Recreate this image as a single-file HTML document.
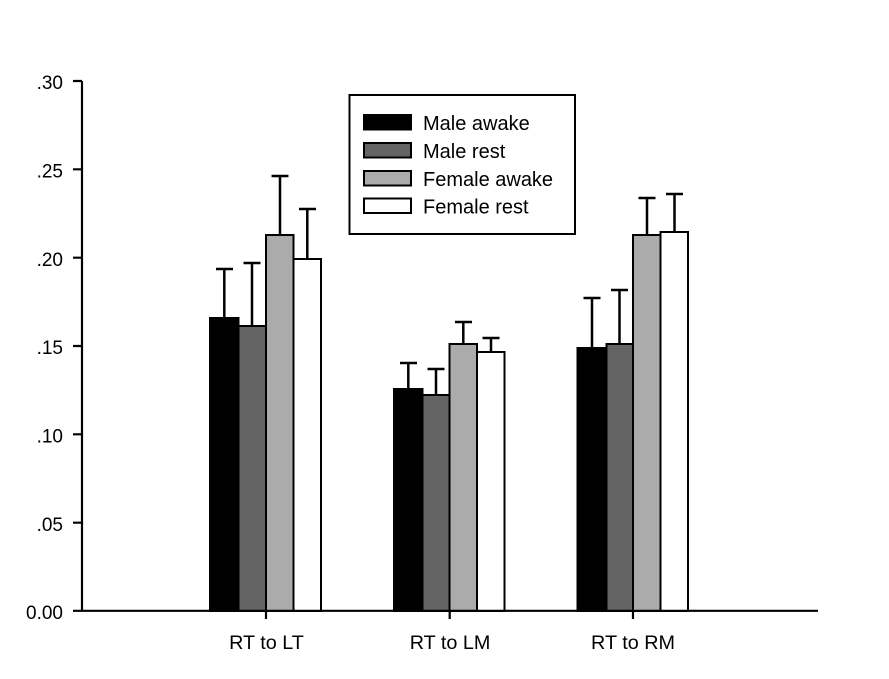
<!DOCTYPE html>
<html><head><meta charset="utf-8"><style>
html,body{margin:0;padding:0;background:#fff;}
svg{display:block;}
text{font-family:"Liberation Sans",Arial,sans-serif;fill:#000;}
</style></head><body>
<svg width="889" height="679" viewBox="0 0 889 679" xmlns="http://www.w3.org/2000/svg">
<rect width="889" height="679" fill="#fff"/>
<g stroke="#000" stroke-width="2">
<rect x="210" y="318" width="28.5" height="293" fill="#000"/>
<rect x="238.5" y="326" width="27.5" height="285" fill="#646464"/>
<rect x="266" y="235" width="27.5" height="376" fill="#ababab"/>
<rect x="293.5" y="259" width="27.5" height="352" fill="#fff"/>
<rect x="394" y="389" width="28.5" height="222" fill="#000"/>
<rect x="422.5" y="395" width="27" height="216" fill="#646464"/>
<rect x="449.5" y="344" width="27.5" height="267" fill="#ababab"/>
<rect x="477" y="352" width="27.5" height="259" fill="#fff"/>
<rect x="577.5" y="348" width="29" height="263" fill="#000"/>
<rect x="606.5" y="344" width="26.5" height="267" fill="#646464"/>
<rect x="633" y="235" width="27.5" height="376" fill="#ababab"/>
<rect x="660.5" y="232" width="27.5" height="379" fill="#fff"/>
</g>
<g stroke="#000" stroke-width="2.5" fill="none">
<path d="M224.3 318V269M216 269H233"/>
<path d="M252 326V263M243.5 263H260.5"/>
<path d="M280 235V176M271.5 176H288.5"/>
<path d="M307.3 259V209M299 209H316"/>
<path d="M408.3 389V363M400 363H417"/>
<path d="M436 395V369M427.5 369H444.5"/>
<path d="M463.3 344V322M455 322H472"/>
<path d="M491 352V338M482.5 338H499.5"/>
<path d="M592 348V298M583.5 298H600.5"/>
<path d="M619.5 344V290M611 290H628"/>
<path d="M647 235V198M638.5 198H655.5"/>
<path d="M674.5 232V194M666 194H683"/>
</g>
<g stroke="#000" stroke-width="2.2" fill="none">
<path d="M82 81V611.7"/>
<path d="M81 610.8H818"/>
<path d="M73 81H82M73 169.3H82M73 257.7H82M73 346H82M73 434.3H82M73 522.7H82M73 610.8H82"/>
<path d="M266 611V619M449.7 611V619M633 611V619"/>
</g>
<g font-size="19" text-anchor="end">
<text x="63" y="89">.30</text>
<text x="63" y="177.5">.25</text>
<text x="63" y="266">.20</text>
<text x="63" y="354">.15</text>
<text x="63" y="442.5">.10</text>
<text x="63" y="531">.05</text>
<text x="63" y="619">0.00</text>
</g>
<g font-size="19.8" text-anchor="middle">
<text x="266.5" y="649">RT to LT</text>
<text x="450" y="649">RT to LM</text>
<text x="633" y="649">RT to RM</text>
</g>
<rect x="349.5" y="95" width="225.5" height="139" fill="#fff" stroke="#000" stroke-width="2"/>
<g stroke="#000" stroke-width="2">
<rect x="364" y="115" width="47" height="14.5" fill="#000"/>
<rect x="364" y="143" width="47" height="14.5" fill="#646464"/>
<rect x="364" y="171" width="47" height="14.5" fill="#ababab"/>
<rect x="364" y="198.5" width="47" height="14.5" fill="#fff"/>
</g>
<g font-size="20">
<text x="423" y="130">Male awake</text>
<text x="423" y="158">Male rest</text>
<text x="423" y="186">Female awake</text>
<text x="423" y="213.5">Female rest</text>
</g>
</svg>
</body></html>
